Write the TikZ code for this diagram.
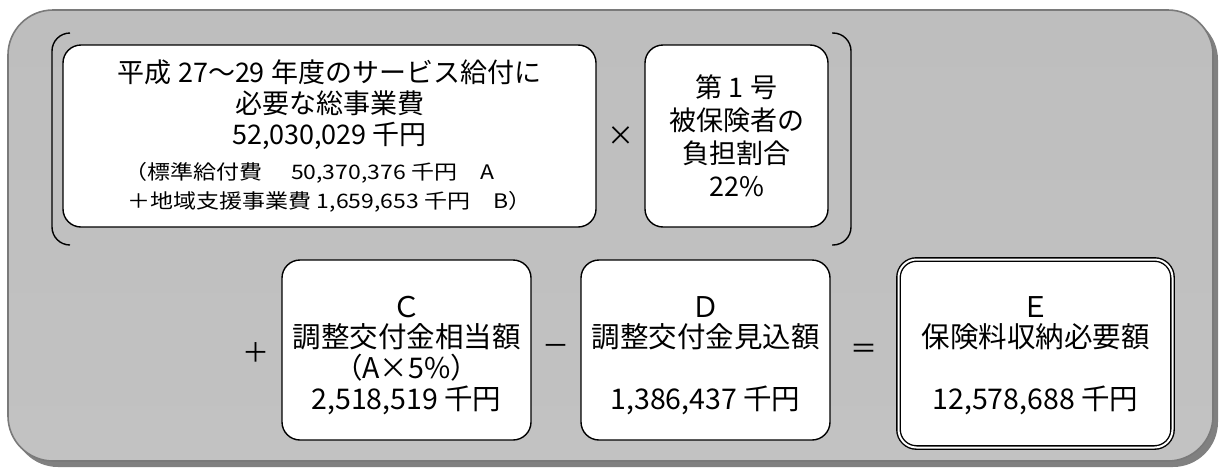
\documentclass[tikz,border=0pt]{standalone}
\usepackage{fontspec}
\usetikzlibrary{calc}
\setmainfont{Noto Sans CJK JP}
\newfontfamily\subfont[FakeStretch=1.15]{Noto Sans CJK JP}
\definecolor{ptop}{HTML}{BEBEBE}
\definecolor{pmid}{HTML}{808080}
\definecolor{pbot}{HTML}{C2C2C2}
\definecolor{pedge}{HTML}{7A7A7A}
\definecolor{pshadow}{HTML}{808080}
\newcommand{\subsz}{\subfont\fontsize{20}{31}\selectfont}
\begin{document}
\begin{tikzpicture}[x=1pt,y=-1pt,
  box/.style={draw=black, line width=1.4pt, fill=white, rounded corners=18pt,
    inner sep=0pt, align=center, font=\fontsize{27}{31}\selectfont},
  lowtext/.style={inner sep=0pt, align=center, font=\fontsize{28.5}{31}\selectfont},
  op/.style={inner sep=0pt, font=\fontsize{27}{31}\selectfont},
  brk/.style={draw=black, line width=1.4pt, rounded corners=18pt}]
\useasboundingbox (0,0) rectangle (1219,469);
% panel shadow and panel
\fill[pshadow, rounded corners=45pt] (13,15) rectangle (1218,467);
\path[rounded corners=45pt, draw=pedge, line width=1.6pt,
  top color=ptop, middle color=pmid, bottom color=pbot] (8,10) rectangle (1213,461);
% top row
\node[box, minimum width=533pt, minimum height=182pt] (total) at (329.5,136)
  {平成 27〜29 年度のサービス給付に\\必要な総事業費\\52,030,029 千円\\[4pt]%
   \subsz （標準給付費　 50,370,376 千円　A\kern40pt\\[-2pt]%
   \subsz ＋地域支援事業費 1,659,653 千円　B）};
\node[box, minimum width=183pt, minimum height=182pt, font=\fontsize{27}{33}\selectfont] (ratio) at (736.5,136)
  {第 1 号\\被保険者の\\負担割合\\22\%};
\node[op] (times) at ($(total.east)!0.5!(ratio.west)$) {×};
\draw[brk] (70,33) -- (52,33) -- (52,245) -- (70,245);
\draw[brk] (832,33) -- (851,33) -- (851,245) -- (832,245);
% bottom row
\node[box, minimum width=249pt, minimum height=180pt] (C) at (406.5,350) {};
\node[lowtext] (Ct) at ([yshift=-6pt]C.center)
  {Ｃ\\[-1pt]調整交付金相当額\\（A×5\%）\\2,518,519 千円};
\node[box, minimum width=249pt, minimum height=180pt] (D) at (705.5,350) {};
\node[lowtext] (Dt) at ([yshift=-6pt]D.center)
  {Ｄ\\[-1pt]調整交付金見込額\\[31pt]1,386,437 千円};
\node[box, double=white, double distance=2pt, minimum width=274pt, minimum height=188pt] (E) at (1035.5,353.5) {};
\node[lowtext] (Et) at (E.center |- Dt.center)
  {Ｅ\\[-1pt]保険料収納必要額\\[31pt]12,578,688 千円};
\node[op] (plus) at (256,353) {＋};
\node[op] (minus) at ($(C.east)!0.5!(D.west)$) {－};
\node[op] (equals) at ($(D.east)!0.5!(E.west)$) {＝};
\end{tikzpicture}
\end{document}
